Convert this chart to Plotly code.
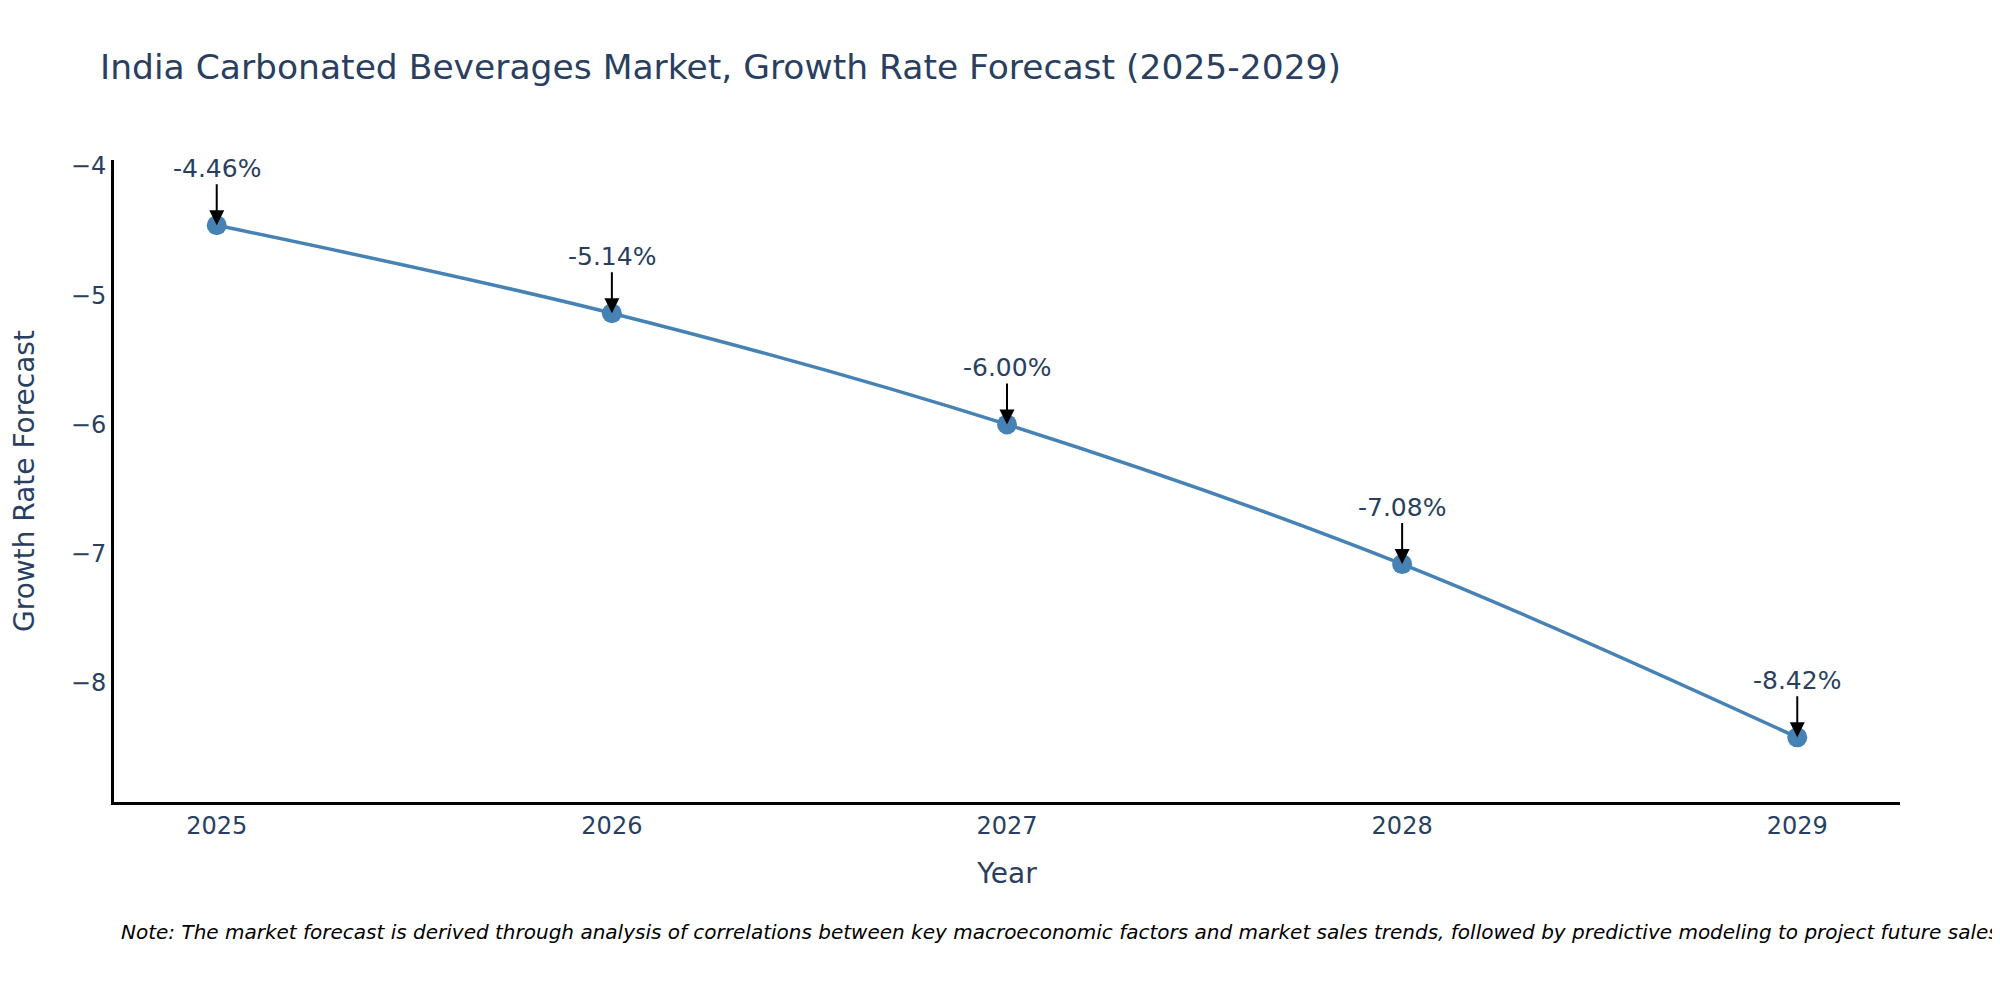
import plotly.graph_objects as go

years = [2025, 2026, 2027, 2028, 2029]
growth = [-4.46, -5.14, -6.00, -7.08, -8.42]
labels = [f"{v:.2f}%" for v in growth]

title_text = "India Carbonated Beverages Market, Growth Rate Forecast (2025-2029)"
note_text = ("Note: The market forecast is derived through analysis of correlations between key "
             "macroeconomic factors and market sales trends, followed by predictive modeling "
             "to project future sales")

FONT = "DejaVu Sans"

fig = go.Figure()
fig.add_trace(go.Scatter(
    x=years, y=growth, mode="lines+markers",
    line=dict(color="steelblue", width=3.5, shape="spline"),
    marker=dict(size=20, color="steelblue"),
    showlegend=False,
))

for x, y, t in zip(years, growth, labels):
    fig.add_annotation(
        x=x, y=y, text=t, showarrow=True,
        arrowhead=2, arrowsize=1.5, arrowwidth=2, arrowcolor="black",
        ax=0, ay=-57, font=dict(family=FONT, size=25, color="#2a3f5f"),
    )

# page body adds an 8px offset, so the figure is 16px smaller than the window
# (the note runs past the right edge in the original too)
fig.add_annotation(
    xref="paper", yref="paper", x=0.003, y=-0.2025,
    xanchor="left", yanchor="middle", showarrow=False,
    text=note_text, font=dict(family=FONT, size=20, color="black", style="italic"),
)

fig.update_layout(
    width=1984, height=984,
    template="plotly_white",
    plot_bgcolor="white", paper_bgcolor="white",
    title=dict(text=title_text, x=0.0464, xanchor="left", y=0.94, yanchor="middle",
               font=dict(family=FONT, size=34.5, color="#2a3f5f")),
    margin=dict(l=106, r=92, t=152, b=190),
    font=dict(family=FONT, size=24, color="#2a3f5f"),
)
fig.update_xaxes(
    title=dict(text="Year", font=dict(size=28), standoff=25),
    tickmode="array", tickvals=years, ticktext=[str(y) for y in years],
    range=[2024.74, 2029.26], showgrid=False, zeroline=False,
    showline=True, linecolor="black", linewidth=3,
)
fig.update_yaxes(
    title=dict(text="Growth Rate Forecast", font=dict(size=28), standoff=30),
    range=[-8.92, -3.955], dtick=1, showgrid=False, zeroline=False,
    showline=True, linecolor="black", linewidth=3,
)

fig.write_html("out.html")
